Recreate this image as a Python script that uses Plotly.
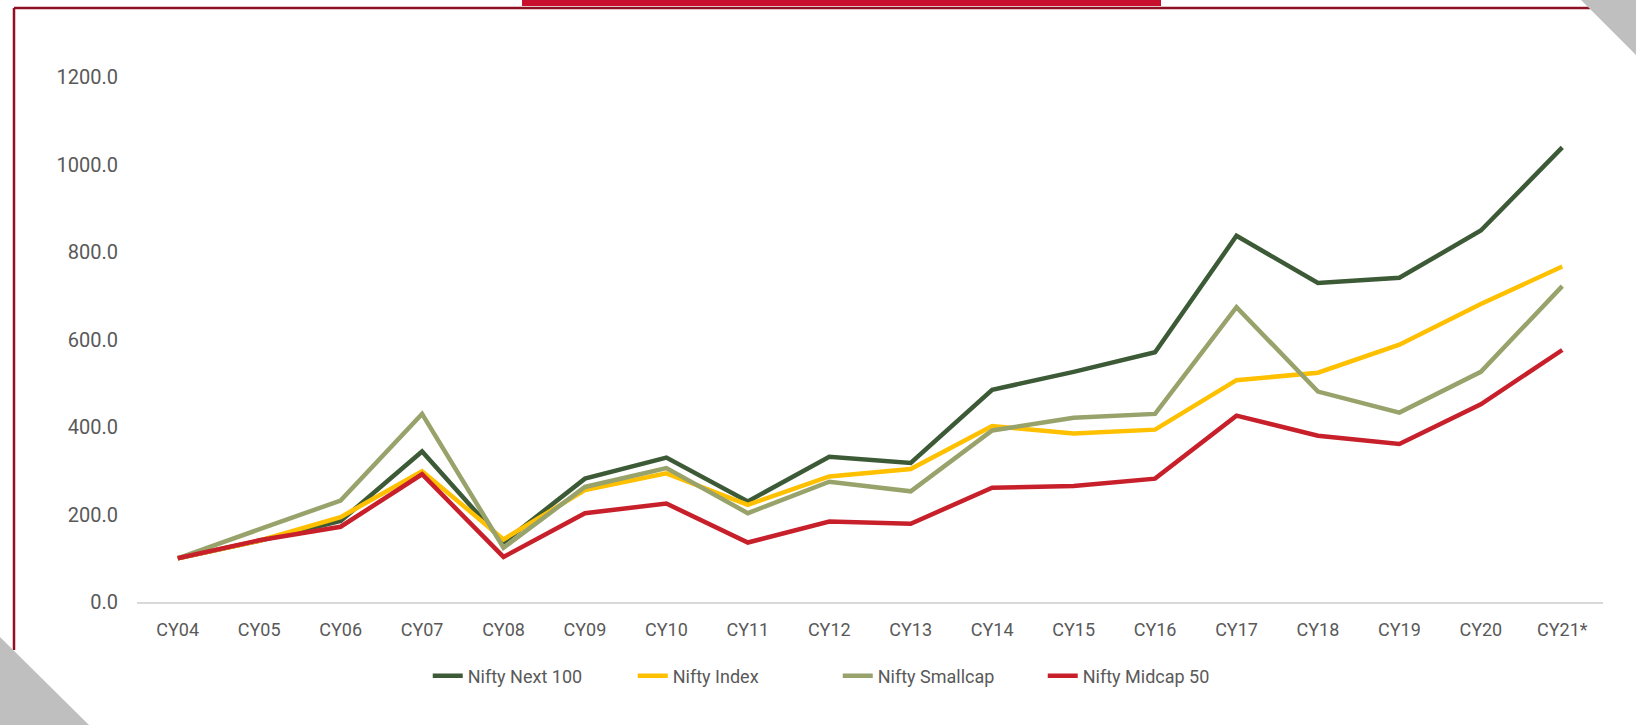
import plotly.graph_objects as go

categories = ["CY04", "CY05", "CY06", "CY07", "CY08", "CY09", "CY10", "CY11", "CY12",
              "CY13", "CY14", "CY15", "CY16", "CY17", "CY18", "CY19", "CY20", "CY21*"]

nifty_next_100 = [100, 140, 185, 344, 136, 282, 330, 230, 332, 318, 485, 526, 571, 837, 729, 741, 849, 1039]
nifty_index = [100, 140, 194, 299, 143, 256, 294, 222, 287, 304, 402, 385, 394, 507, 524, 588, 681, 767]
nifty_smallcap = [100, 165, 232, 430, 124, 263, 306, 203, 275, 253, 392, 421, 430, 674, 481, 433, 526, 722]
nifty_midcap_50 = [100, 141, 172, 292, 103, 203, 225, 136, 184, 179, 261, 265, 282, 426, 380, 361, 452, 576]

series_names = ["Nifty Next 100", "Nifty Index", "Nifty Smallcap", "Nifty Midcap 50"]
series_values = [nifty_next_100, nifty_index, nifty_smallcap, nifty_midcap_50]
series_colors = ["#3D5A37", "#FFC000", "#98A26B", "#C8202B"]

W, H = 1636, 725
L, R, T, B = 137, 33, 77, 123
PW, PH = W - L - R, H - T - B


def px(x):
    return (x - L) / PW


def py(y):
    return (H - B - y) / PH


fig = go.Figure()
for name, vals, col in zip(series_names, series_values, series_colors):
    fig.add_trace(go.Scatter(x=categories, y=vals, name=name, mode="lines",
                             line=dict(color=col, width=4.5)))

shapes = [
    # top red bar
    dict(type="rect", xref="paper", yref="paper", x0=px(522), x1=px(1161), y0=py(-1), y1=py(6),
         fillcolor="#C8102E", line=dict(width=0), layer="above"),
    # frame lines
    dict(type="line", xref="paper", yref="paper", x0=px(14), x1=px(14), y0=py(8), y1=py(650),
         line=dict(color="#8E1022", width=2.5)),
    dict(type="line", xref="paper", yref="paper", x0=px(14), x1=px(1590), y0=py(8), y1=py(8),
         line=dict(color="#8E1022", width=2.5)),
    # corner triangles
    dict(type="path", xref="paper", yref="paper",
         path=f"M {px(1580)} {py(-1)} L {px(1637)} {py(-1)} L {px(1637)} {py(56)} Z",
         fillcolor="#BFBFBF", line=dict(width=0)),
    dict(type="path", xref="paper", yref="paper",
         path=f"M {px(-1)} {py(636)} L {px(-1)} {py(726)} L {px(90)} {py(726)} Z",
         fillcolor="#BFBFBF", line=dict(width=0)),
]

fig.update_layout(
    width=W, height=H,
    margin=dict(l=L, r=R, t=T, b=B, pad=0),
    paper_bgcolor="white", plot_bgcolor="white",
    font=dict(family="Roboto", size=18, color="#595959"),
    showlegend=True,
    legend=dict(orientation="h", x=0.478, xanchor="center", y=py(676), yanchor="middle",
                entrywidth=160, entrywidthmode="pixels",
                font=dict(size=18, color="#595959"), bgcolor="rgba(0,0,0,0)"),
    shapes=shapes,
    xaxis=dict(type="category", range=[-0.5, len(categories) - 0.5], showgrid=False,
               showline=True, linecolor="#D9D9D9", linewidth=2, zeroline=False,
               ticks="outside", ticklen=10, tickcolor="rgba(0,0,0,0)",
               tickfont=dict(size=18, color="#595959")),
    yaxis=dict(range=[0, 1200], dtick=200, tickformat=".1f", showgrid=False,
               zeroline=False, showline=False, ticks="outside", ticklen=14,
               tickcolor="rgba(0,0,0,0)", tickfont=dict(size=20, color="#595959")),
)

fig.write_html("out.html", config={"displayModeBar": False},
               post_script="document.body.style.margin='0';document.body.style.overflow='hidden';")
